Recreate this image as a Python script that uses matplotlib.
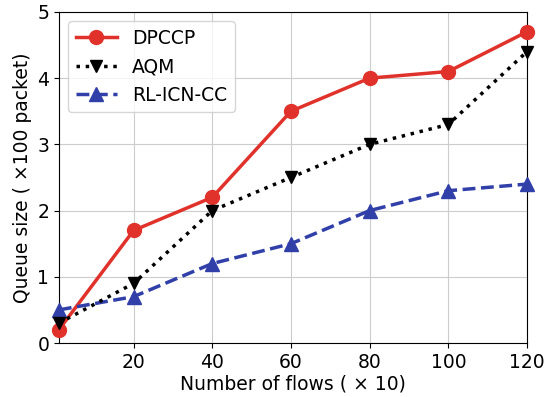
import matplotlib
matplotlib.use("Agg")
import matplotlib.pyplot as plt

flows = [1, 20, 40, 60, 80, 100, 120]
dpccp = [0.2, 1.7, 2.2, 3.5, 4.0, 4.1, 4.7]
aqm = [0.3, 0.9, 2.0, 2.5, 3.0, 3.3, 4.4]
rl_icn_cc = [0.5, 0.7, 1.2, 1.5, 2.0, 2.3, 2.4]

fig, ax = plt.subplots(figsize=(5.45, 3.97), dpi=100)
fig.subplots_adjust(left=0.108, right=0.967, top=0.970, bottom=0.136)

ax.plot(flows, dpccp, color='#e0322a', linestyle='-', linewidth=2.5,
        marker='o', markersize=10, label='DPCCP', clip_on=False, zorder=3)
ax.plot(flows, aqm, color='black', linestyle=':', linewidth=2.5,
        marker='v', markersize=9, label='AQM', clip_on=False, zorder=4)
ax.plot(flows, rl_icn_cc, color='#3040a8', linestyle='--', linewidth=2.5,
        marker='^', markersize=10, label='RL-ICN-CC', clip_on=False, zorder=3)

ax.set_xlim(1, 120)
ax.set_ylim(0, 5)
ax.set_xticks([20, 40, 60, 80, 100, 120])
ax.set_yticks([0, 1, 2, 3, 4, 5])
ax.tick_params(labelsize=13.5)
ax.grid(True, color='#cccccc', linewidth=0.8)
ax.set_axisbelow(True)
ax.set_xlabel('Number of flows ( × 10)', fontsize=13.5, labelpad=2)
ax.set_ylabel('Queue size ( ×100 packet)', fontsize=13.5, labelpad=4)
ax.legend(loc='upper left', fontsize=13.5, handlelength=2.2)

plt.savefig('out.png', dpi=100)
